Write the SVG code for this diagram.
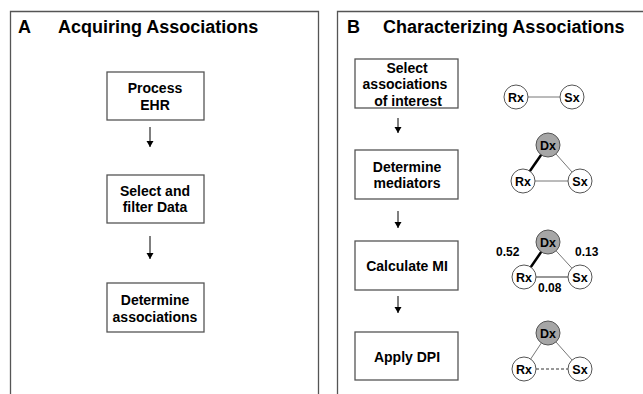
<svg xmlns="http://www.w3.org/2000/svg" width="643" height="394" viewBox="0 0 643 394">
<defs>
<style>
text{font-family:"Liberation Sans",Arial,sans-serif;fill:#000}
.title{font-size:18px;font-weight:bold}
.bt{font-size:14px;font-weight:bold;text-anchor:middle}
.nt{font-size:12.5px;font-weight:bold;text-anchor:middle}
.lbl{font-size:12px;font-weight:bold}
.box{fill:#fff;stroke:#555;stroke-width:1.3}
.panel{fill:none;stroke:#555;stroke-width:1.3}
.arr{stroke:#000;stroke-width:1;fill:none;marker-end:url(#ah)}
.c{fill:#fff;stroke:#555;stroke-width:1}
.cd{fill:#a6a6a6;stroke:#555;stroke-width:1}
.thin{stroke:#777;stroke-width:1}
.mid{stroke:#333;stroke-width:1.1}
.thick{stroke:#000;stroke-width:2.5}
.dash{stroke:#333;stroke-width:1;stroke-dasharray:3,2}
</style>
<marker id="ah" markerUnits="userSpaceOnUse" markerWidth="8" markerHeight="8" refX="6" refY="3.5" orient="auto">
<path d="M0,0 L6,3.5 L0,7 z" fill="#000"/>
</marker>
</defs>
<rect width="643" height="394" fill="#fff"/>
<g id="panelA">
<path class="panel" d="M10.5,394 V11.5 H318.5 V394"/>
<text class="title" x="18" y="33">A</text>
<text class="title" x="58" y="33">Acquiring Associations</text>
</g>
<g id="panelB">
<path class="panel" d="M337.5,394 V11.5 H643"/>
<text class="title" x="347" y="33">B</text>
<text class="title" x="383" y="33">Characterizing Associations</text>
</g>
<g id="connectors">
<line class="arr" x1="150" y1="127" x2="150" y2="147"/>
<line class="arr" x1="150" y1="236" x2="150" y2="259"/>
<line class="arr" x1="398" y1="118" x2="398" y2="133"/>
<line class="arr" x1="398" y1="211" x2="398" y2="228"/>
<line class="arr" x1="398" y1="296" x2="398" y2="313"/>
<line class="thin" x1="516" y1="97" x2="572" y2="97"/>
<line class="thick" x1="548" y1="145" x2="523" y2="181"/>
<line class="thin" x1="548" y1="145" x2="580" y2="181"/>
<line class="thin" x1="523" y1="181" x2="580" y2="181"/>
<line class="thick" x1="548" y1="242" x2="524" y2="277"/>
<line class="thin" x1="548" y1="242" x2="580" y2="277"/>
<line class="mid" x1="524" y1="277" x2="580" y2="277"/>
<line class="thin" x1="548" y1="333" x2="524" y2="369"/>
<line class="thin" x1="548" y1="333" x2="580" y2="369"/>
<line class="dash" x1="536" y1="369" x2="568" y2="369"/>
</g>
<g id="processEHR">
<rect class="box" x="107" y="72" width="97" height="48"/>
<text class="bt" x="155" y="93">Process</text>
<text class="bt" x="155" y="110">EHR</text>
</g>
<g id="selectFilter">
<rect class="box" x="107" y="175" width="97" height="48"/>
<text class="bt" x="155" y="196">Select and</text>
<text class="bt" x="155" y="212">filter Data</text>
</g>
<g id="determineAssoc">
<rect class="box" x="107" y="283" width="97" height="49"/>
<text class="bt" x="155" y="305">Determine</text>
<text class="bt" x="155" y="322">associations</text>
</g>
<g id="selectInterest">
<rect class="box" x="355" y="59" width="103" height="49"/>
<text class="bt" x="407" y="73">Select</text>
<text class="bt" x="405" y="88.5">associations</text>
<text class="bt" x="408" y="106">of interest</text>
</g>
<g id="determineMediators">
<rect class="box" x="355" y="150" width="103" height="49"/>
<text class="bt" x="407" y="172">Determine</text>
<text class="bt" x="407" y="188">mediators</text>
</g>
<g id="calculateMI">
<rect class="box" x="355" y="241" width="103" height="49"/>
<text class="bt" x="407" y="271">Calculate MI</text>
</g>
<g id="applyDPI">
<rect class="box" x="355" y="332" width="103" height="48"/>
<text class="bt" x="407" y="362">Apply DPI</text>
</g>
<g id="graph1">
<circle class="c" cx="516" cy="97" r="12"/><text class="nt" x="516" y="101.5">Rx</text>
<circle class="c" cx="572" cy="97" r="12"/><text class="nt" x="572" y="101.5">Sx</text>
</g>
<g id="graph2">
<circle class="cd" cx="548" cy="145" r="12"/><text class="nt" x="548" y="149.5">Dx</text>
<circle class="c" cx="523" cy="181" r="12"/><text class="nt" x="523" y="185.5">Rx</text>
<circle class="c" cx="580" cy="181" r="12"/><text class="nt" x="580" y="185.5">Sx</text>
</g>
<g id="graph3">
<circle class="cd" cx="548" cy="242" r="12"/><text class="nt" x="548" y="246.5">Dx</text>
<circle class="c" cx="524" cy="277" r="12"/><text class="nt" x="524" y="281.5">Rx</text>
<circle class="c" cx="580" cy="277" r="12"/><text class="nt" x="580" y="281.5">Sx</text>
<text class="lbl" x="496" y="256">0.52</text>
<text class="lbl" x="575" y="256">0.13</text>
<text class="lbl" x="538" y="292">0.08</text>
</g>
<g id="graph4">
<circle class="cd" cx="548" cy="333" r="12"/><text class="nt" x="548" y="337.5">Dx</text>
<circle class="c" cx="524" cy="369" r="12"/><text class="nt" x="524" y="373.5">Rx</text>
<circle class="c" cx="580" cy="369" r="12"/><text class="nt" x="580" y="373.5">Sx</text>
</g>
</svg>
